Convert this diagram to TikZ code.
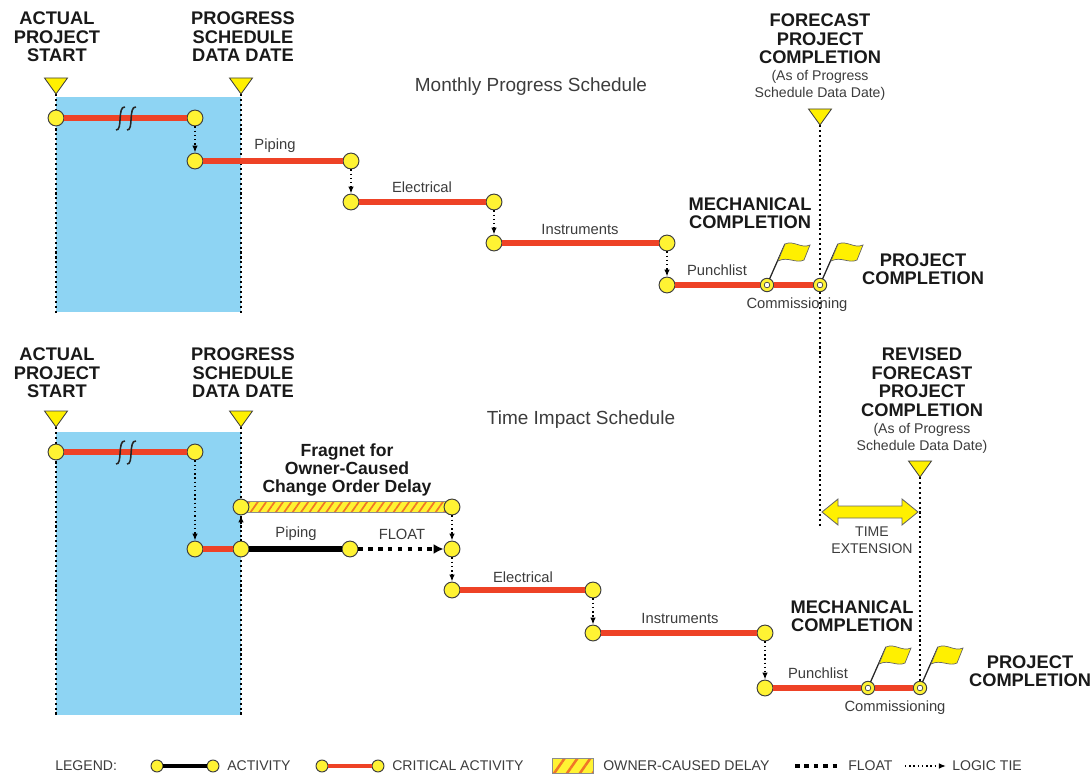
\documentclass[tikz,border=0pt]{standalone}
\usepackage{fontspec}
\setmainfont{Liberation Sans}
\usetikzlibrary{arrows.meta,patterns.meta,backgrounds}

\definecolor{critred}{RGB}{238,66,38}
\definecolor{evtyel}{RGB}{255,243,51}
\definecolor{flagyel}{RGB}{255,240,0}
\definecolor{skyfill}{RGB}{142,212,243}
\definecolor{hatchor}{RGB}{240,118,40}
\definecolor{txtgray}{RGB}{60,60,60}

\tikzset{
  evt/.style={circle,draw=black!75,fill=evtyel,line width=0.7pt,minimum size=11.3pt,inner sep=0pt},
  milering/.style={circle,draw=black!75,fill=evtyel,line width=0.7pt,minimum size=9.5pt,inner sep=0pt,
    path picture={\draw[black!75,fill=white,line width=0.5pt] (path picture bounding box.center) circle (2pt);}},
  crit/.style={critred,line width=4.2pt},
  act/.style={black,line width=4.2pt},
  tie/.style={black,dotted,line width=1pt,-{Latex[length=5pt,width=4pt]}},
  flt/.style={black,line width=3pt,dash pattern=on 3.2pt off 3.8pt,-{Latex[length=7pt,width=7pt]}},
  dateln/.style={black,dotted,line width=1.5pt},
  brk/.style={black!85,line width=1.1pt},
  head/.style={font=\fontsize{13}{13.2}\selectfont\bfseries,align=center,inner sep=0pt,text=black!90},
  schedtitle/.style={font=\fontsize{13.5}{15}\selectfont,inner sep=0pt,text=txtgray},
  note/.style={font=\fontsize{10}{12}\selectfont,align=center,inner sep=0pt,text=txtgray},
  lbl/.style={font=\fontsize{10.5}{12}\selectfont,inner sep=0pt,text=txtgray},
  datemark/.pic={\filldraw[fill=flagyel,draw=black!75,line width=0.6pt] (-11.5,-16) -- (11.5,-16) -- (0,0) -- cycle;},
  flag/.pic={
    \draw[black!85,line width=0.9pt] (2.5,-6) -- (18,-41);
    \filldraw[fill=flagyel,draw=black!60,line width=0.5pt] (18,-41) .. controls (27,-45) and (34,-36) .. (43,-40)
      -- (37,-25) .. controls (29,-21) and (21,-29) .. (11,-24) -- cycle;}
}

\begin{document}
\begin{tikzpicture}[x=0.025cm,y=-0.025cm]
\useasboundingbox (0,0) rectangle (1090,774);

% ---------- Monthly Progress Schedule ----------
\node[head] (startA) at (57,37) {ACTUAL\\PROJECT\\START};
\node[head] (dataA) at (243,37) {PROGRESS\\SCHEDULE\\DATA DATE};
\node[schedtitle] (monthly) at (531,87) {Monthly Progress Schedule};
\node[head] (fcst) at (820,39) {FORECAST\\PROJECT\\COMPLETION};
\node[note] (fcstnote) at (820,85) {(As of Progress\\Schedule Data Date)};

\pic at (56,94) {datemark};
\pic at (241,94) {datemark};
\pic at (820,125) {datemark};
\coordinate (sA) at (56,94);   \coordinate (sAb) at (56,313);
\coordinate (dA) at (241,94);  \coordinate (dAb) at (241,313);
\coordinate (fA) at (820,125); \coordinate (fAb) at (820,527);

\node[evt] (a1) at (56,118) {};
\node[evt] (a2) at (195,118) {};
\node[evt] (b1) at (195,161) {};
\node[evt] (b2) at (351,161) {};
\node[evt] (c1) at (351,202) {};
\node[evt] (c2) at (494,202) {};
\node[evt] (d1) at (494,243) {};
\node[evt] (d2) at (667,243) {};
\node[evt] (e1) at (667,285) {};
\node[milering] (m1) at (767,285) {};
\node[milering] (m2) at (820,285) {};

\begin{scope}[on background layer]
\fill[skyfill] (56,97) rectangle (241,312);
\draw[dateln] (sA) -- (sAb);
\draw[dateln] (dA) -- (dAb);
\draw[dateln] (fA) -- (fAb);
\end{scope}

\draw[crit] (a1) -- (a2);
\draw[brk] (116,130) .. controls (123,131) and (117,106) .. (125,107);
\draw[brk] (127,130) .. controls (134,131) and (128,106) .. (136,107);
\draw[tie] (a2) -- (b1);
\draw[crit] (b1) -- (b2);
\draw[tie] (b2) -- (c1);
\draw[crit] (c1) -- (c2);
\draw[tie] (c2) -- (d1);
\draw[crit] (d1) -- (d2);
\draw[tie] (d2) -- (e1);
\draw[crit] (e1) -- (m1);
\draw[crit] (m1) -- (m2);
\pic at (m1) {flag};
\pic at (m2) {flag};

\node[lbl] (pipA) at (275,146) {Piping};
\node[lbl] (eleA) at (422,187) {Electrical};
\node[lbl] (insA) at (580,229) {Instruments};
\node[lbl] (punA) at (717,270) {Punchlist};
\node[lbl] (comA) at (797,305) {Commissioning};
\node[head] (mechA) at (750,213) {MECHANICAL\\COMPLETION};
\node[head] (projA) at (923,269) {PROJECT\\COMPLETION};

% ---------- Time Impact Schedule ----------
\node[head] (startB) at (57,373) {ACTUAL\\PROJECT\\START};
\node[head] (dataB) at (243,373) {PROGRESS\\SCHEDULE\\DATA DATE};
\node[schedtitle] (impact) at (581,420) {Time Impact Schedule};
\node[head] (revB) at (922,382) {REVISED\\FORECAST\\PROJECT\\COMPLETION};
\node[note] (revnote) at (922,438) {(As of Progress\\Schedule Data Date)};
\node[head,font=\fontsize{12.5}{12.8}\selectfont\bfseries] (frag) at (347,470)
  {Fragnet for\\Owner-Caused\\Change Order Delay};

\pic at (56,427) {datemark};
\pic at (241,427) {datemark};
\pic at (920,477) {datemark};
\coordinate (sB) at (56,427);   \coordinate (sBb) at (56,716);
\coordinate (dB) at (241,427);  \coordinate (dBb) at (241,716);
\coordinate (rB) at (920,477);

\node[evt] (A1) at (56,452) {};
\node[evt] (A2) at (195,452) {};
\node[evt] (B1) at (195,549) {};
\node[evt] (B2) at (241,549) {};
\node[evt] (F1) at (241,507) {};
\node[evt] (F2) at (452,507) {};
\node[evt] (P2) at (350,549) {};
\node[evt] (Q) at (452,549) {};
\node[evt] (C1) at (452,590) {};
\node[evt] (C2) at (593,590) {};
\node[evt] (D1) at (593,633) {};
\node[evt] (D2) at (765,633) {};
\node[evt] (E1) at (765,688) {};
\node[milering] (M1) at (868,688) {};
\node[milering] (M2) at (920,688) {};

\begin{scope}[on background layer]
\fill[skyfill] (56,432) rectangle (241,715);
\draw[dateln] (sB) -- (sBb);
\draw[dateln] (dB) -- (dBb);
\draw[dateln] (rB) -- (M2);
\fill[evtyel] ([yshift=3.8pt]F1.center) rectangle ([yshift=-3.8pt]F2.center);
\fill[pattern={Lines[angle=55,distance=4.9pt,line width=1.2pt]},pattern color=hatchor]
  ([yshift=3.8pt]F1.center) rectangle ([yshift=-3.8pt]F2.center);
\draw[black!45,line width=0.5pt] ([yshift=3.8pt]F1.center) rectangle ([yshift=-3.8pt]F2.center);
\end{scope}

\draw[crit] (A1) -- (A2);
\draw[brk] (116,464) .. controls (123,465) and (117,440) .. (125,441);
\draw[brk] (127,464) .. controls (134,465) and (128,440) .. (136,441);
\draw[tie] (A2) -- (B1);
\draw[crit] (B1) -- (B2);
\draw[tie] (B2) -- (F1);
\draw[act] (B2) -- (P2);
\draw[flt] (P2) -- (Q);
\draw[tie] (F2) -- (Q);
\draw[tie] (Q) -- (C1);
\draw[crit] (C1) -- (C2);
\draw[tie] (C2) -- (D1);
\draw[crit] (D1) -- (D2);
\draw[tie] (D2) -- (E1);
\draw[crit] (E1) -- (M1);
\draw[crit] (M1) -- (M2);
\pic at (M1) {flag};
\pic at (M2) {flag};

% time extension
\filldraw[fill=flagyel,draw=black!60,line width=0.6pt]
  (822,512) -- (838,499) -- (838,506) -- (902,506) -- (902,499) -- (918,512)
  -- (902,525) -- (902,518) -- (838,518) -- (838,525) -- cycle;
\node[note] (ext) at (872,540) {TIME\\EXTENSION};

\node[lbl] (pipB) at (296,534) {Piping};
\node[lbl] (fltB) at (402,534) {FLOAT};
\node[lbl] (eleB) at (523,577) {Electrical};
\node[lbl] (insB) at (680,618) {Instruments};
\node[lbl] (punB) at (818,673) {Punchlist};
\node[lbl] (comB) at (895,708) {Commissioning};
\node[head] (mechB) at (852,616) {MECHANICAL\\COMPLETION};
\node[head] (projB) at (1030,671) {PROJECT\\COMPLETION};

% ---------- legend ----------
\node[note,anchor=west] (lgd) at (55,766) {LEGEND:};
\node[evt,minimum size=8.5pt] (lg1) at (157,766) {};
\node[evt,minimum size=8.5pt] (lg2) at (213,766) {};
\draw[act,line width=2.8pt] (lg1) -- (lg2);
\node[note,anchor=west] (lgact) at (227,766) {ACTIVITY};
\node[evt,minimum size=8.5pt] (lg3) at (322,766) {};
\node[evt,minimum size=8.5pt] (lg4) at (378,766) {};
\draw[crit,line width=2.8pt] (lg3) -- (lg4);
\node[note,anchor=west] (lgcrit) at (392,766) {CRITICAL ACTIVITY};
\fill[evtyel] (552,758) rectangle (593,773);
\fill[pattern={Lines[angle=55,distance=7.5pt,line width=1.8pt]},pattern color=hatchor] (552,758) rectangle (593,773);
\draw[black!45,line width=0.5pt] (552,758) rectangle (593,773);
\node[note,anchor=west] (lgdel) at (603,766) {OWNER-CAUSED DELAY};
\coordinate (lf1) at (795,766); \coordinate (lf2) at (840,766);
\draw[black,line width=3pt,dash pattern=on 3.3pt off 3.4pt] (lf1) -- (lf2);
\node[note,anchor=west] (lgflt) at (848,766) {FLOAT};
\coordinate (lt1) at (905,766); \coordinate (lt2) at (946,766);
\draw[tie] (lt1) -- (lt2);
\node[note,anchor=west] (lgtie) at (952,766) {LOGIC TIE};
\end{tikzpicture}
\end{document}
